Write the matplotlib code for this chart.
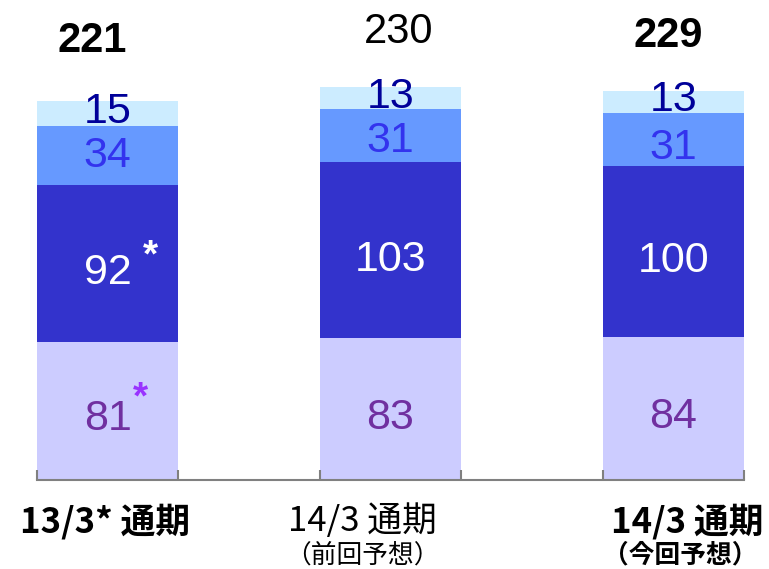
import matplotlib
matplotlib.use('Agg')
import matplotlib.pyplot as plt
import numpy as np

# データ
categories = ['13/3* 通期', '14/3 通期', '14/3 通期']
sub_labels = ['', '（前回予想）', '（今回予想）']
bold_flags = [True, False, True]
seg1 = [81, 83, 84]      # 最下段
seg2 = [92, 103, 100]
seg3 = [34, 31, 31]
seg4 = [15, 13, 13]      # 最上段
totals = [221, 230, 229]

colors = ['#CCCCFF', '#3333CC', '#6699FF', '#CCECFF']
text_colors = ['#7030A0', '#FFFFFF', '#3333EE', '#000099']
star_colors = ['#9933FF', '#FFFFFF']

fig = plt.figure(figsize=(7.69, 5.69), dpi=100)
ax = fig.add_axes([0.048, 0.156, 0.9195, 0.844])

x = np.arange(len(categories))
width = 0.5
series = [seg1, seg2, seg3, seg4]
# ラベルの上下微調整（pt）
seg_dy = [[-6, -6, -6], [-7, -7, -7], [0, -4, -6], [1, 1, 1]]
bottom = np.zeros(len(categories))
for k, vals in enumerate(series):
    vals = np.array(vals, dtype=float)
    ax.bar(x, vals, width, bottom=bottom, color=colors[k], edgecolor='none', zorder=2)
    for i in range(len(x)):
        yc = bottom[i] + vals[i] / 2
        dy = seg_dy[k][i]
        ax.annotate(str(int(vals[i])), (x[i], yc), xytext=(0, dy), textcoords='offset points',
                    ha='center', va='center', fontsize=31, color=text_colors[k],
                    family='Liberation Sans', zorder=3)
        # 13/3 の注記「*」
        if i == 0 and k < 2:
            off = (24, dy + 15) if k == 0 else (31, dy + 12)
            ax.annotate('*', (x[i], yc), xytext=off, textcoords='offset points',
                        ha='center', va='center', fontsize=28, fontweight='bold',
                        color=star_colors[k], family='Liberation Sans', zorder=3)
    bottom += vals

# 合計
total_dx = [-11, 6, -4]
total_dy = [29, 25, 25]
for i, t in enumerate(totals):
    ax.annotate(str(t), (x[i], bottom[i]), xytext=(total_dx[i], total_dy[i]), textcoords='offset points',
                ha='center', va='bottom', fontsize=30,
                fontweight='bold' if bold_flags[i] else 'normal',
                family='Liberation Sans', color='black')

# カテゴリラベル
label_dx = [-2, -20, 10]
sub_dx = [0, -20, 5]
for i, c in enumerate(categories):
    w = 'bold' if bold_flags[i] else 'normal'
    ax.annotate(c, (x[i], 0), xycoords=('data', 'axes fraction'), xytext=(label_dx[i], -30),
                textcoords='offset points', ha='center', va='center', fontsize=25,
                fontweight=w, family=['Noto Sans CJK JP', 'DejaVu Sans'], annotation_clip=False)
    if sub_labels[i]:
        ax.annotate(sub_labels[i], (x[i], 0), xycoords=('data', 'axes fraction'), xytext=(sub_dx[i], -54),
                    textcoords='offset points', ha='center', va='center', fontsize=18.5,
                    fontweight=w, family=['Noto Sans CJK JP', 'DejaVu Sans'], annotation_clip=False)

ax.set_xlim(x[0] - width / 2, x[-1] + width / 2)
ax.set_ylim(0, 281)
edges = np.concatenate([x - width / 2, x + width / 2])
ax.set_xticks(np.sort(edges))
ax.set_xticklabels([])
ax.tick_params(axis='x', direction='in', length=7, width=1.5, color='#808080')
ax.set_yticks([])
for s in ['top', 'right', 'left']:
    ax.spines[s].set_visible(False)
ax.spines['bottom'].set_color('#808080')
ax.spines['bottom'].set_linewidth(1.5)
ax.spines['bottom'].set_zorder(5)
ax.set_axisbelow(False)

fig.savefig('out.png', dpi=100)
